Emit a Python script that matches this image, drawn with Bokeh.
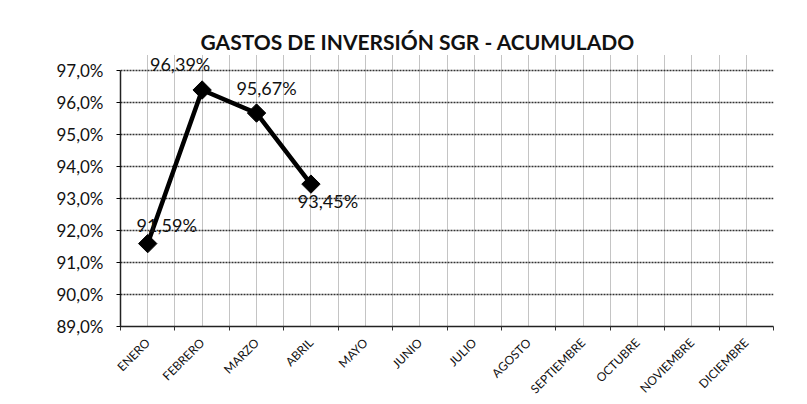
from math import pi
from bokeh.plotting import figure
from bokeh.models import ColumnDataSource, FixedTicker, Range1d, LabelSet
from bokeh.core.properties import value
from bokeh.embed import file_html
from bokeh.resources import INLINE

months = ["ENERO", "FEBRERO", "MARZO", "ABRIL", "MAYO", "JUNIO", "JULIO",
          "AGOSTO", "SEPTIEMBRE", "OCTUBRE", "NOVIEMBRE", "DICIEMBRE"]
values = [91.59, 96.39, 95.67, 93.45]
value_labels = ["91,59%", "96,39%", "95,67%", "93,45%"]
y_ticks = [89, 90, 91, 92, 93, 94, 95, 96, 97]

# label placement offsets (screen px)
label_dx = [19, -22, 10, 17]
label_dy = [19, 26, 25, -17]

FONT = "Lato"
Y_MIN, Y_MAX = min(y_ticks), max(y_ticks)
Y_HEADROOM = 0.5  # extra room above the top gridline so the labels are not clipped

xs = [i + 0.5 for i in range(len(values))]
src = ColumnDataSource(dict(x=xs, y=values, lab=value_labels, dx=label_dx, dy=label_dy))

p = figure(width=807, height=404, output_backend="svg", toolbar_location=None,
           x_range=Range1d(0, len(months)), y_range=Range1d(Y_MIN, Y_MAX + Y_HEADROOM),
           min_border_left=120, min_border_right=34, min_border_top=54, min_border_bottom=78)

p.title.text = "GASTOS DE INVERSIÓN SGR - ACUMULADO"
p.title.align = "left"
p.title.offset = 80
p.title.standoff = 2
p.title.text_font = FONT
p.title.text_font_size = "21px"
p.title.text_font_style = "bold"
p.title.text_color = "#111111"

p.outline_line_color = None

# axes
p.xaxis.ticker = FixedTicker(ticks=[i + 0.5 for i in range(len(months))],
                             minor_ticks=list(range(len(months) + 1)))
p.xaxis.major_label_overrides = {i + 0.5: m for i, m in enumerate(months)}
p.xaxis.major_label_orientation = pi / 4
p.xaxis.major_label_text_font = FONT
p.xaxis.major_label_text_font_size = "12px"
p.xaxis.major_label_text_color = "#111111"
p.xaxis.major_label_standoff = 8
p.xaxis.major_tick_line_color = None
p.xaxis.minor_tick_out = 4
p.xaxis.minor_tick_in = 0
p.xaxis.minor_tick_line_color = "#333333"
p.xaxis.axis_line_color = "#222222"
p.xaxis.axis_line_width = 1.5

p.yaxis.ticker = FixedTicker(ticks=y_ticks, minor_ticks=[])
p.yaxis.bounds = (Y_MIN, Y_MAX)
p.yaxis.major_label_overrides = {t: f"{t:.1f}%".replace(".", ",") for t in y_ticks}
p.yaxis.major_label_text_font = FONT
p.yaxis.major_label_text_font_size = "17px"
p.yaxis.major_label_text_color = "#111111"
p.yaxis.major_tick_out = 4
p.yaxis.major_tick_in = 0
p.yaxis.major_label_standoff = 13
p.yaxis.axis_line_color = "#222222"
p.yaxis.axis_line_width = 1.5

# grids
p.xgrid.ticker = FixedTicker(ticks=[i * 0.5 for i in range(2 * len(months) + 1)])
p.xgrid.bounds = (Y_MIN, Y_MAX)
p.xgrid.grid_line_color = "#888888"
p.xgrid.grid_line_dash = "1 1"
p.xgrid.grid_line_width = 1
p.ygrid.ticker = FixedTicker(ticks=y_ticks)
p.ygrid.grid_line_color = "#333333"
p.ygrid.grid_line_dash = "2 1"
p.ygrid.grid_line_width = 1.5

p.line("x", "y", source=src, line_color="black", line_width=4.5)
p.scatter("x", "y", source=src, marker="square", angle=pi / 4, size=13,
          fill_color="black", line_color="black")

labels = LabelSet(x="x", y="y", text="lab", source=src, x_offset="dx", y_offset="dy",
                  text_align="center", text_baseline="middle",
                  text_font=value(FONT), text_font_size=value("18px"), text_color="#111111")
p.add_layout(labels)

open("out.html", "w").write(file_html(p, INLINE))
